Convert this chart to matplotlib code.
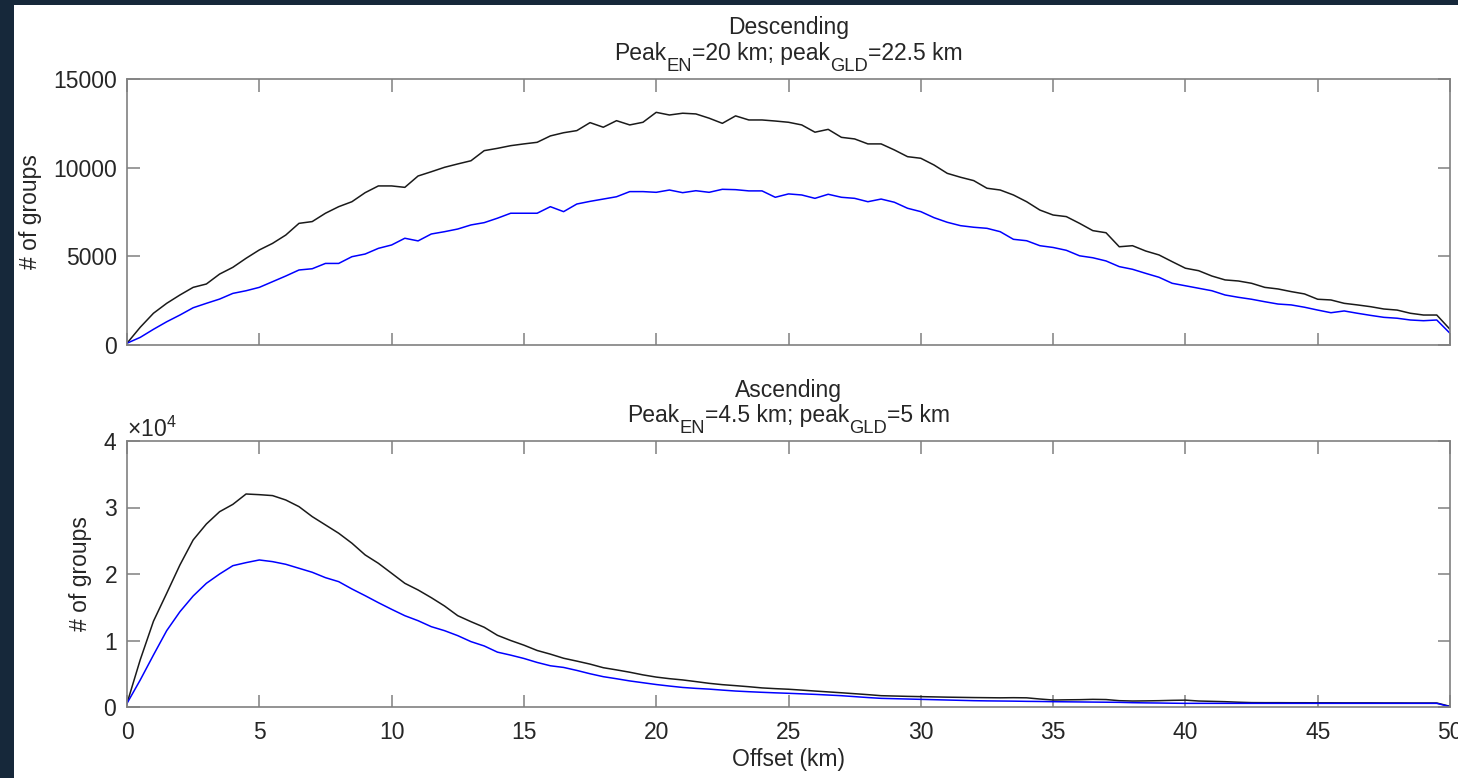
import numpy as np
import matplotlib
matplotlib.use("Agg")
import matplotlib.pyplot as plt
from matplotlib.patches import Rectangle
from matplotlib.transforms import offset_copy

plt.rcParams['font.family'] = ['Liberation Sans', 'DejaVu Sans']
plt.rcParams['mathtext.fontset'] = 'custom'
plt.rcParams['mathtext.rm'] = 'Liberation Sans'
plt.rcParams['mathtext.it'] = 'Liberation Sans:italic'

# offset bins, every 0.5 km
offset_km = np.arange(0, 50.5, 0.5)

# descending track: group counts
desc_en = [100, 1000, 1790, 2350, 2820, 3250, 3440, 4000, 4380, 4890,
           5360, 5730, 6200, 6860, 6960, 7430, 7800, 8080, 8590, 8970,
           8970, 8890, 9530, 9770, 10020, 10210, 10390, 10960, 11090, 11240,
           11340, 11430, 11790, 11970, 12090, 12540, 12280, 12650, 12410, 12560,
           13120, 12970, 13070, 13030, 12790, 12500, 12920, 12690, 12690, 12630,
           12560, 12410, 12000, 12160, 11710, 11620, 11340, 11340, 11000, 10620,
           10530, 10150, 9680, 9460, 9270, 8840, 8740, 8460, 8080, 7610,
           7330, 7240, 6860, 6450, 6330, 5540, 5600, 5300, 5080, 4700,
           4330, 4190, 3890, 3670, 3610, 3480, 3250, 3160, 3010, 2880,
           2580, 2540, 2350, 2260, 2160, 2030, 1970, 1790, 1690, 1690,
           885]
desc_gld = [100, 430, 885, 1310, 1690, 2100, 2350, 2590, 2910, 3060,
            3250, 3570, 3890, 4230, 4300, 4600, 4600, 4980, 5130, 5450,
            5640, 6020, 5870, 6260, 6390, 6540, 6770, 6900, 7150, 7430,
            7430, 7430, 7800, 7520, 7950, 8100, 8230, 8360, 8650, 8650,
            8610, 8740, 8590, 8700, 8610, 8780, 8760, 8690, 8690, 8330,
            8520, 8460, 8270, 8500, 8330, 8270, 8080, 8230, 8050, 7710,
            7520, 7180, 6920, 6730, 6640, 6580, 6390, 5960, 5880, 5600,
            5500, 5340, 5030, 4920, 4740, 4420, 4270, 4040, 3820, 3480,
            3340, 3200, 3060, 2820, 2690, 2580, 2440, 2310, 2260, 2130,
            1970, 1820, 1920, 1790, 1670, 1560, 1510, 1410, 1370, 1410,
            660]

# ascending track: group counts
asc_en = [550, 7100, 12900, 17100, 21360, 25120, 27520, 29370, 30470, 32030,
          31930, 31790, 31130, 30130, 28630, 27380, 26130, 24630, 22870, 21610,
          20110, 18600, 17600, 16440, 15190, 13730, 12830, 11990, 10780, 10000,
          9300, 8500, 7950, 7330, 6900, 6450, 5910, 5580, 5230, 4830,
          4500, 4260, 4070, 3820, 3560, 3360, 3210, 3050, 2870, 2760,
          2670, 2540, 2400, 2270, 2140, 2000, 1860, 1700, 1650, 1600,
          1560, 1520, 1480, 1450, 1420, 1400, 1380, 1400, 1380, 1200,
          1050, 1080, 1100, 1150, 1120, 950, 900, 920, 950, 1000,
          1030, 900, 850, 800, 720, 660, 650, 650, 640, 640,
          630, 630, 620, 620, 620, 610, 610, 600, 600, 600,
          100]
asc_gld = [550, 4060, 7820, 11480, 14330, 16690, 18600, 20000, 21250, 21710,
           22110, 21860, 21460, 20860, 20260, 19450, 18850, 17750, 16740, 15690,
           14690, 13730, 12980, 12080, 11480, 10730, 9830, 9180, 8250, 7800,
           7300, 6700, 6200, 5950, 5500, 5000, 4560, 4250, 3920, 3650,
           3380, 3150, 2940, 2800, 2690, 2540, 2400, 2300, 2210, 2130,
           2060, 1980, 1900, 1800, 1700, 1560, 1420, 1300, 1250, 1200,
           1150, 1100, 1050, 1000, 950, 920, 900, 880, 850, 830,
           800, 780, 760, 740, 720, 700, 650, 620, 600, 570,
           550, 550, 550, 550, 550, 550, 550, 550, 550, 550,
           550, 550, 550, 550, 550, 550, 550, 550, 550, 550,
           50]

x_ticks = np.arange(0, 51, 5)

desc_title = [('Peak', False), ('EN', True), ('=20 km; peak', False), ('GLD', True), ('=22.5 km', False)]
asc_title = [('Peak', False), ('EN', True), ('=4.5 km; peak', False), ('GLD', True), ('=5 km', False)]

fs = 16.5
txt_col = '#262626'

fig = plt.figure(figsize=(14.58, 7.78), dpi=100, facecolor='#16283a')
fig.patches.append(Rectangle((14 / 1458, 0), 1, 1 - 5 / 778, transform=fig.transFigure,
                             facecolor='white', edgecolor='none', zorder=-10))
renderer = fig.canvas.get_renderer()


def sub_line(ax, y, parts):
    # one centred line with big, dropped subscripts
    sizes = [fs * 0.8 if sub else fs for _, sub in parts]
    widths = []
    for (s, sub), size in zip(parts, sizes):
        t = fig.text(0, 0, s, fontsize=size)
        widths.append(t.get_window_extent(renderer).width)
        t.remove()
    x = -sum(widths) / 2
    for (s, sub), size, w in zip(parts, sizes, widths):
        tr = offset_copy(ax.transAxes, fig=fig, x=x, y=-11 if sub else 0, units='dots')
        ax.text(0.5, y, s, transform=tr, ha='left', va='baseline', fontsize=size, color=txt_col)
        x += w


ax1 = fig.add_axes([127 / 1458, 1 - 345 / 778, 1323 / 1458, 266 / 778])
ax2 = fig.add_axes([127 / 1458, 1 - 707 / 778, 1323 / 1458, 266 / 778])

for ax in (ax1, ax2):
    ax.set_facecolor('white')
    for sp in ax.spines.values():
        sp.set_color('#808080')
        sp.set_linewidth(1.2)
    ax.tick_params(which='both', direction='in', top=True, right=True, length=9,
                   width=1.1, color='#808080', labelcolor=txt_col, labelsize=fs)
    ax.tick_params(axis='x', pad=10)
    ax.tick_params(axis='y', pad=7)
    ax.set_xlim(0, 50)
    ax.set_xticks(x_ticks)
    ax.set_ylabel('# of groups', fontsize=fs, color=txt_col, labelpad=8)

ax1.plot(offset_km, desc_en, color='#1a1a1a', lw=1.1)
ax1.plot(offset_km, desc_gld, color='#0000ff', lw=1.1)
ax1.set_ylim(0, 15000)
ax1.set_yticks([0, 5000, 10000, 15000])
ax1.set_xticklabels([])
ax1.text(0.5, 1.17, 'Descending', transform=ax1.transAxes, ha='center', va='baseline',
         fontsize=fs, color=txt_col)
sub_line(ax1, 1.072, desc_title)

ax2.plot(offset_km, asc_en, color='#1a1a1a', lw=1.1)
ax2.plot(offset_km, asc_gld, color='#0000ff', lw=1.1)
ax2.set_ylim(0, 40000)
ax2.set_yticks([0, 10000, 20000, 30000, 40000])
ax2.ticklabel_format(axis='y', style='sci', scilimits=(4, 4), useMathText=True)
ax2.yaxis.get_offset_text().set_fontsize(fs)
ax2.yaxis.get_offset_text().set_color(txt_col)
ax2.set_xlabel('Offset (km)', fontsize=fs, color=txt_col, labelpad=3)
ax2.text(0.5, 1.165, 'Ascending', transform=ax2.transAxes, ha='center', va='baseline',
         fontsize=fs, color=txt_col)
sub_line(ax2, 1.07, asc_title)

fig.savefig('out.png', dpi=100, facecolor=fig.get_facecolor())
